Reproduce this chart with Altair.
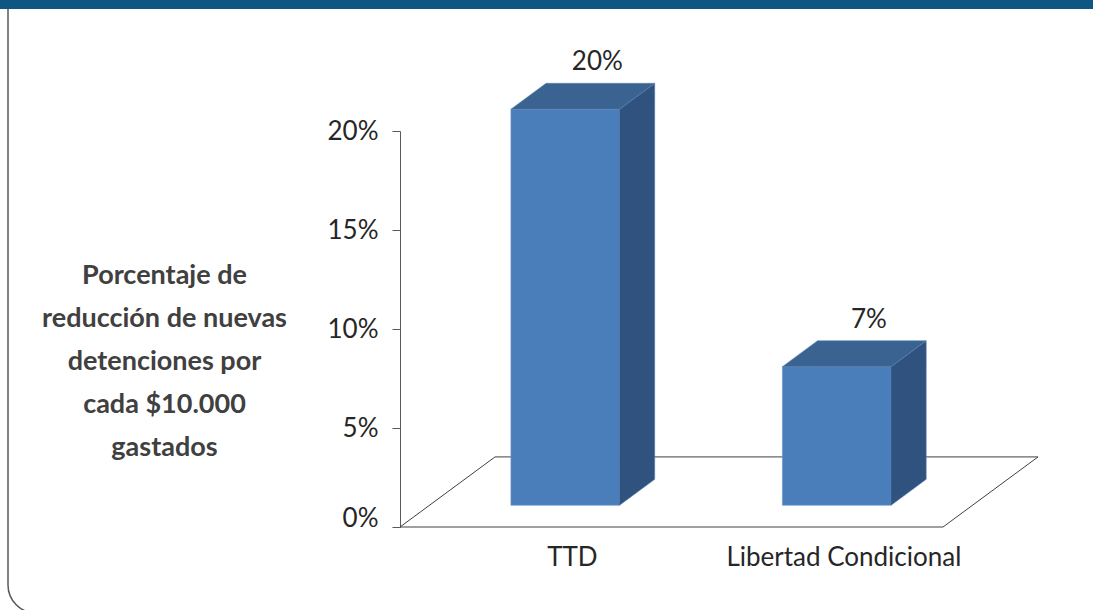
import altair as alt
import pandas as pd

# ---- data ----
categories = ["TTD", "Libertad Condicional"]
values = [20, 7]                      # percent
value_labels = ["20%", "7%"]
y_ticks = [0, 5, 10, 15, 20]
y_title = ["Porcentaje de", "reducción de  nuevas", "detenciones  por",
           "cada  $10.000", "gastados"]

# ---- 3-D look (oblique projection, in data units) ----
DX = 0.35    # floor depth along x (category units)
DY = 3.54    # floor depth along y (percent units)
D1, D2 = 0.31, 0.68   # front / back depth of the bars
HALF = 0.2            # half bar width (category units)
N = len(categories)

front, side, top, labs, xlab = [], [], [], [], []
for i, (cat, v, t) in enumerate(zip(categories, values, value_labels)):
    c = i + 0.5
    front.append(dict(cat=cat, x=c - HALF + D1 * DX, x2=c + HALF + D1 * DX,
                      y=v + D1 * DY, y2=D1 * DY))
    for d in (D1, D2):
        side.append(dict(cat=cat, x=c + HALF + d * DX, y=v + d * DY, y2=d * DY))
        top.append(dict(cat=cat, y=v + d * DY, x=c - HALF + d * DX,
                        x2=c + HALF + d * DX))
    labs.append(dict(cat=cat, x=c + D2 * DX, y=v + D2 * DY, text=t))
    xlab.append(c + 0.38 * DX)

floor_pts = [(0, 0), (N, 0), (N + DX, DY), (DX, DY), (0, 0)]
floor = pd.DataFrame([dict(x=a, y=b, o=k) for k, (a, b) in enumerate(floor_pts)])

W, H = 640, 396
XMAX = N * W / 543.0
FONT = "Lato"
LINE = "#595959"
TXT = "#262626"

xs = alt.Scale(domain=[0, XMAX], nice=False, zero=False)
ys = alt.Scale(domain=[0, 20], nice=False, zero=False)

label_expr = " : ".join(
    f"abs(datum.value - {p:.4f}) < 0.01 ? '{cat}'" for p, cat in zip(xlab, categories)
) + " : ''"

x_axis = alt.Axis(values=xlab, labelExpr=label_expr, ticks=False, tickSize=0,
                  domain=False, grid=False, labelPadding=38, labelLimit=0,
                  labelBaseline="alphabetic", labelAlign="center",
                  labelFont=FONT, labelFontSize=26, labelColor=TXT,
                  labelOverlap=False, labelFlush=False, title=None)

y_axis = alt.Axis(values=y_ticks, labelExpr="datum.value + '%'", grid=False,
                  tickSize=8, tickColor=LINE, domainColor=LINE,
                  labelPadding=14, labelFont=FONT, labelFontSize=26,
                  labelColor=TXT, labelFlush=False,
                  labelOffset={"condition": {"test": "datum.value == 0", "value": -9},
                               "value": 0},
                  title=y_title, titleAngle=0, titleX=-236, titleY=144,
                  titleAlign="center", titleBaseline="middle", titleFont=FONT,
                  titleFontWeight="bold", titleFontSize=27, titleLineHeight=43,
                  titleLimit=0, titleColor="#404040")

deco = pd.DataFrame([{"k": 1}])

band = alt.Chart(deco).mark_rect(color="#0F5783").encode(
    x=alt.value(-400), x2=alt.value(W + 53), y=alt.value(-131), y2=alt.value(-122))

frame = alt.Chart(deco).mark_rect(fill="transparent", stroke=LINE, strokeWidth=1.5,
                                  cornerRadiusBottomLeft=28).encode(
    x=alt.value(-392), x2=alt.value(W + 400), y=alt.value(-126), y2=alt.value(482))

X = lambda: alt.X("x:Q", scale=xs, axis=x_axis)
Y = lambda: alt.Y("y:Q", scale=ys, axis=y_axis)

floor_layer = alt.Chart(floor).mark_line(color="#404040", strokeWidth=1).encode(
    x=X(), y=Y(), order="o:O")

front_layer = alt.Chart(pd.DataFrame(front)).mark_rect(
    color="#4A7EBB", stroke="#6A93C8", strokeWidth=0.6).encode(
    x=X(), x2="x2:Q", y=Y(), y2="y2:Q")

side_layer = alt.Chart(pd.DataFrame(side)).mark_area(
    color="#30527E", stroke="#4F74A4", strokeWidth=0.6).encode(
    x=X(), y=Y(), y2="y2:Q", detail="cat:N")

top_layer = alt.Chart(pd.DataFrame(top)).mark_area(
    orient="horizontal", color="#3A6391", stroke="#5A80B0", strokeWidth=0.6).encode(
    y=Y(), x=X(), x2="x2:Q", detail="cat:N")

text_layer = alt.Chart(pd.DataFrame(labs)).mark_text(
    font=FONT, fontSize=26, color=TXT, baseline="alphabetic", align="center",
    dx=-3, dy=-13).encode(
    x=X(), y=Y(), text="text:N")

chart = alt.layer(
    frame, floor_layer, front_layer, side_layer, top_layer, text_layer, band
).properties(
    width=W, height=H,
    autosize=alt.AutoSizeParams(type="none"),
    padding={"left": 400, "top": 131, "right": 53, "bottom": 83},
    background="white",
).configure_view(stroke=None)

chart.save("out.html", embed_options={"renderer": "svg", "actions": False})
